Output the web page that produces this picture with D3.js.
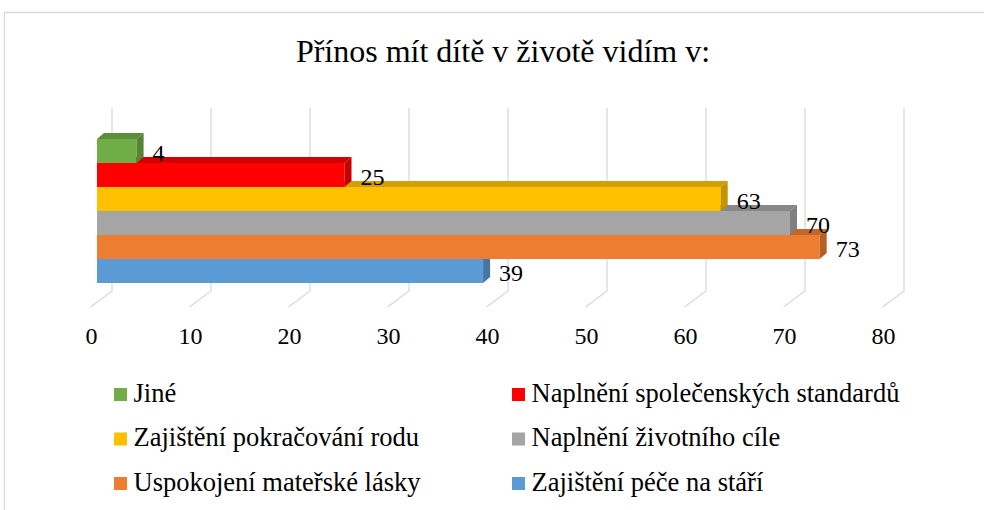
<!DOCTYPE html>
<html>
<head>
<meta charset="utf-8">
<script src="https://cdn.jsdelivr.net/npm/d3@7"></script>
<style>
  body { margin: 0; background: #fff; }
  svg { display: block; }
</style>
</head>
<body>
<svg id="chart"></svg>
<script>
// data
const categories = ['Jiné', 'Naplnění společenských standardů', 'Zajištění pokračování rodu',
  'Naplnění životního cíle', 'Uspokojení mateřské lásky', 'Zajištění péče na stáří']
const values = [4, 25, 63, 70, 73, 39]
const tickValues = [0, 10, 20, 30, 40, 50, 60, 70, 80]
const titleText = 'Přínos mít dítě v životě vidím v:'

const W = 984, H = 510
const FONT = "'Liberation Serif'"
let svg = d3.select('#chart').attr('width', W).attr('height', H)

const fills = ['#70AD47', '#FF0000', '#FFC000', '#A5A5A5', '#ED7D31', '#5B9BD5']
const color = d3.scaleOrdinal().domain(categories).range(fills)
const shade = c => d3.color(c).darker(0.55)

// back wall scale + depth offsets
let x = d3.scaleLinear().domain([0, 80]).range([112, 904])
let y = d3.scaleBand().domain(categories).range([139, 283]).paddingInner(0)
const gridTop = 108, gridBottom = 291
const floorDx = -21.5, floorDy = 16
const barShift = -15      // bar front face relative to back wall
const bd = {dx: 7, dy: -6} // bar depth

// chart border
svg.append('path')
  .attr('d', `M4.5,${H} V12.5 H${W}`)
  .attr('fill', 'none').attr('stroke', '#D9D9D9').attr('stroke-width', 1.3)

// title
svg.append('text').text(titleText)
  .attr('x', 503).attr('y', 62)
  .attr('text-anchor', 'middle')
  .style('font-family', FONT)
  .attr('font-size', 32)
  .attr('fill', '#000')

// gridlines (back wall + floor)
let grid = svg.append('g').attr('class', 'grid')
grid.selectAll('path').data(tickValues).enter().append('path')
  .attr('d', d => `M${x(d)},${gridTop} V${gridBottom} l${floorDx},${floorDy}`)
  .attr('fill', 'none')
  .attr('stroke', '#D9D9D9')
  .attr('stroke-width', 1.3)

// axis labels
svg.append('g').selectAll('text').data(tickValues).enter().append('text')
  .text(d => d)
  .attr('x', d => x(d) + floorDx + 1)
  .attr('y', 344)
  .attr('text-anchor', 'middle')
  .style('font-family', FONT)
  .attr('font-size', 24)

// bars, drawn bottom first so upper bars cover lower top faces
let rows = categories.map((c, i) => ({cat: c, v: values[i]})).reverse()
let bars = svg.append('g').selectAll('g').data(rows).enter().append('g')

const x0 = d => x(0) + barShift
const x1 = d => x(d.v) + barShift

bars.append('rect')
  .attr('x', x0).attr('y', d => y(d.cat))
  .attr('width', d => x1(d) - x0(d)).attr('height', y.bandwidth())
  .attr('fill', d => color(d.cat))
bars.append('path')
  .attr('d', d => {
    let t = y(d.cat)
    return `M${x0(d)},${t} L${x1(d)},${t} l${bd.dx},${bd.dy} L${x0(d) + bd.dx},${t + bd.dy} Z`
  })
  .attr('fill', d => shade(color(d.cat)))
bars.append('path')
  .attr('d', d => {
    let t = y(d.cat), b = t + y.bandwidth()
    return `M${x1(d)},${t} l${bd.dx},${bd.dy} L${x1(d) + bd.dx},${b + bd.dy} L${x1(d)},${b} Z`
  })
  .attr('fill', d => d3.color(shade(color(d.cat))).darker(0.2))

// value labels
svg.append('g').selectAll('text').data(rows).enter().append('text')
  .text(d => d.v)
  .attr('x', d => x1(d) + bd.dx + 9)
  .attr('y', d => y(d.cat) + y.bandwidth() / 2 + 10)
  .style('font-family', FONT)
  .attr('font-size', 24)

// legend
let legend = svg.append('g').selectAll('g').data(categories).enter().append('g')
  .attr('transform', (d, i) => `translate(${i % 2 ? 512 : 114},${394.5 + Math.floor(i / 2) * 44.5})`)
legend.append('rect')
  .attr('x', 0).attr('y', -6.5).attr('width', 13).attr('height', 13)
  .attr('fill', d => color(d))
legend.append('text').text(d => d)
  .attr('x', 19.5).attr('y', 7)
  .style('font-family', FONT)
  .attr('font-size', 26.5)
</script>
</body>
</html>
